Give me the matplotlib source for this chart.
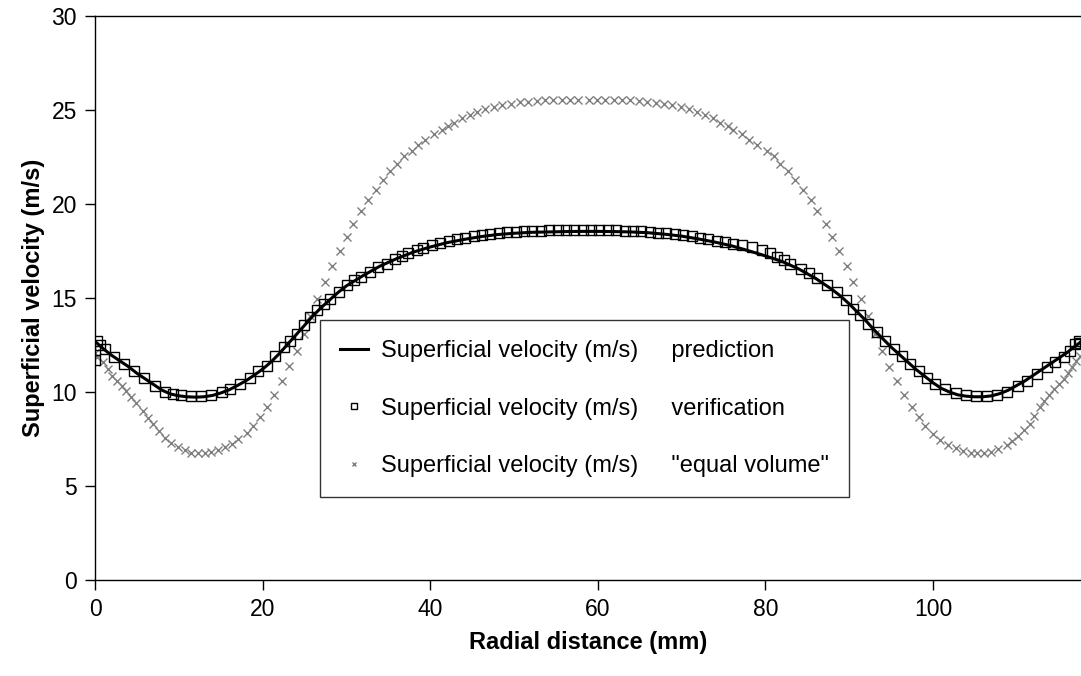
import matplotlib
matplotlib.use("Agg")
import matplotlib.pyplot as plt

plt.rcParams['font.family'] = ['Liberation Sans', 'DejaVu Sans']

# verification (squares)
ver_x = [0.0, 0.2, 0.6, 1.2, 2.3, 3.5, 4.7, 5.9, 7.1, 8.3, 9.3, 10.3, 11.5, 12.7, 13.9,
         15.1, 16.1, 17.3, 18.5, 19.5, 20.5, 21.5, 22.5, 23.3, 24.1, 24.9, 25.7, 26.5,
         27.3, 28.1, 29.1, 30.1, 30.9, 31.8, 32.8, 33.8, 34.8, 35.8, 36.6, 37.4, 38.4,
         39.2, 40.2, 41.2, 42.2, 43.2, 44.2, 45.2, 46.2, 47.2, 48.2, 49.2, 50.2, 51.2,
         52.2, 53.2, 54.2, 55.2, 56.2, 57.2, 58.2, 59.2, 60.2, 61.2, 62.2, 63.2, 64.2,
         65.2, 66.2, 67.2, 68.2, 69.2, 70.2, 71.2, 72.2, 73.2, 74.2, 75.2, 76.2, 77.2,
         78.4, 79.6, 80.5, 81.4, 82.2, 83.0, 84.2, 85.2, 86.2, 87.4, 88.6, 89.6, 90.5,
         91.3, 92.3, 93.3, 94.3, 95.3, 96.3, 97.3, 98.3, 99.3, 100.3, 101.5, 102.7,
         103.9, 105.1, 106.4, 107.7, 108.8, 110.1, 111.2, 112.4, 113.6, 114.6, 115.6,
         116.4, 117.0, 117.4, 117.6]
ver_v = [11.7, 12.7, 12.5, 12.3, 11.85, 11.5, 11.14, 10.73, 10.34, 10.02, 9.9, 9.82,
         9.78, 9.78, 9.86, 10.02, 10.16, 10.43, 10.73, 11.1, 11.4, 11.9, 12.39, 12.74,
         13.1, 13.55, 14.0, 14.35, 14.7, 14.97, 15.33, 15.7, 15.95, 16.13, 16.4, 16.67,
         16.84, 17.06, 17.26, 17.4, 17.56, 17.68, 17.8, 17.92, 18.02, 18.12, 18.2,
         18.28, 18.35, 18.4, 18.45, 18.5, 18.53, 18.55, 18.57, 18.58, 18.6, 18.6, 18.6,
         18.62, 18.62, 18.63, 18.62, 18.6, 18.6, 18.58, 18.56, 18.55, 18.52, 18.48,
         18.45, 18.4, 18.35, 18.28, 18.2, 18.12, 18.05, 17.97, 17.9, 17.83, 17.7,
         17.56, 17.4, 17.2, 17.02, 16.84, 16.54, 16.31, 16.08, 15.7, 15.33, 14.88,
         14.44, 14.08, 13.64, 13.19, 12.74, 12.3, 11.94, 11.5, 11.14, 10.75, 10.43,
         10.16, 9.93, 9.84, 9.8, 9.8, 9.86, 9.98, 10.34, 10.6, 10.96, 11.32, 11.62,
         11.86, 12.21, 12.57, 12.74, 12.6]

# "equal volume" (crosses)
eq_x = [0.0, 0.24, 0.96, 1.55, 2.03, 2.63, 3.22, 3.74, 4.34, 4.93, 5.73, 6.33, 6.93,
        7.64, 8.32, 9.11, 9.91, 10.71, 11.5, 12.3, 13.1, 13.9, 14.7, 15.5, 16.3, 17.1,
        18.1, 18.9, 19.7, 20.5, 21.4, 22.3, 23.2, 24.1, 24.9, 25.7, 26.5, 27.5, 28.3,
        29.2, 30.1, 30.8, 31.7, 32.6, 33.5, 34.4, 35.2, 36.1, 36.9, 37.8, 38.6, 39.4,
        40.4, 41.4, 42.1, 42.8, 43.8, 44.8, 45.6, 46.6, 47.6, 48.6, 49.6, 50.7, 51.7,
        52.7, 53.7, 54.7, 55.7, 56.7, 57.7, 58.9, 59.9, 60.9, 61.9, 62.9, 63.9, 64.9,
        65.9, 66.9, 67.9, 68.9, 69.9, 70.9, 71.9, 72.8, 73.8, 74.6, 75.5, 76.2, 77.2,
        78.0, 79.0, 80.2, 81.0, 81.8, 82.7, 83.6, 84.5, 85.4, 86.2, 87.2, 87.9, 88.8,
        89.7, 90.5, 91.4, 92.3, 93.1, 93.9, 94.8, 95.7, 96.6, 97.5, 98.4, 99.1, 100.0,
        100.9, 101.8, 102.7, 103.6, 104.5, 105.3, 106.1, 106.9, 107.8, 108.8, 109.5,
        110.2, 110.9, 111.6, 112.1, 112.8, 113.3, 113.8, 114.4, 115.0, 115.6, 116.1,
        116.6, 117.1, 117.6]
eq_v = [12.1, 11.86, 11.62, 11.23, 10.87, 10.6, 10.34, 10.04, 9.75, 9.41, 9.0, 8.64,
        8.29, 7.93, 7.58, 7.31, 7.1, 6.92, 6.78, 6.74, 6.78, 6.83, 6.92, 7.07, 7.26,
        7.49, 7.81, 8.2, 8.68, 9.2, 9.84, 10.57, 11.37, 12.21, 13.1, 14.05, 14.97,
        15.87, 16.72, 17.52, 18.27, 18.97, 19.64, 20.23, 20.77, 21.27, 21.75, 22.16,
        22.55, 22.85, 23.15, 23.44, 23.71, 23.94, 24.15, 24.33, 24.56, 24.74, 24.9,
        25.04, 25.17, 25.26, 25.35, 25.42, 25.45, 25.5, 25.52, 25.54, 25.55, 25.55,
        25.56, 25.56, 25.56, 25.55, 25.55, 25.54, 25.52, 25.5, 25.45, 25.4, 25.35,
        25.26, 25.17, 25.04, 24.9, 24.74, 24.56, 24.33, 24.15, 23.94, 23.71, 23.44,
        23.15, 22.85, 22.55, 22.16, 21.75, 21.27, 20.77, 20.23, 19.64, 18.97, 18.24,
        17.5, 16.72, 15.87, 14.94, 14.03, 13.1, 12.21, 11.35, 10.57, 9.84, 9.2, 8.68,
        8.2, 7.79, 7.43, 7.18, 7.0, 6.86, 6.78, 6.74, 6.78, 6.83, 6.95, 7.17, 7.4,
        7.66, 7.98, 8.29, 8.73, 9.18, 9.53, 9.84, 10.16, 10.43, 10.7, 11.0, 11.32,
        11.68, 11.94]

# prediction (line)
pred_x = [0, 1, 2, 3, 4, 5, 6, 7, 8, 9, 10, 11, 12, 13, 14, 15, 16, 17, 18, 19, 20,
          21, 22, 23, 24, 25, 26, 27, 28, 29, 30, 32, 34, 36, 38, 40, 42, 44, 46, 48,
          50, 52, 54, 56, 58, 60, 62, 64, 66, 68, 70, 72, 74, 76, 78, 80, 82, 84, 86,
          87, 88, 89, 90, 91, 92, 93, 94, 95, 96, 97, 98, 99, 100, 101, 102, 103, 104,
          105, 106, 107, 108, 109, 110, 111, 112, 113, 114, 115, 116, 117, 117.6]
pred_v = [12.7, 12.3, 11.95, 11.65, 11.35, 11.0, 10.7, 10.4, 10.1, 9.9, 9.8, 9.75,
          9.73, 9.75, 9.82, 9.95, 10.12, 10.35, 10.6, 10.9, 11.22, 11.6, 12.05, 12.55,
          13.05, 13.55, 14.05, 14.5, 14.9, 15.3, 15.65, 16.2, 16.7, 17.1, 17.45, 17.72,
          17.95, 18.12, 18.27, 18.38, 18.45, 18.5, 18.52, 18.54, 18.55, 18.55, 18.54,
          18.52, 18.48, 18.4, 18.3, 18.15, 17.98, 17.78, 17.52, 17.25, 16.95, 16.55,
          16.05, 15.75, 15.45, 15.1, 14.7, 14.25, 13.8, 13.3, 12.85, 12.4, 12.0, 11.6,
          11.2, 10.85, 10.5, 10.2, 10.0, 9.85, 9.78, 9.75, 9.75, 9.8, 9.92, 10.1,
          10.35, 10.6, 10.9, 11.2, 11.5, 11.8, 12.1, 12.45, 12.65]

gap = ' ' * 5
lab_pred = 'Superficial velocity (m/s)' + gap + 'prediction'
lab_ver = 'Superficial velocity (m/s)' + gap + 'verification'
lab_eq = 'Superficial velocity (m/s)' + gap + '"equal volume"'

fig = plt.figure(figsize=(10.81, 6.76), dpi=100)
ax = fig.add_axes([0.0879, 0.142, 0.9115, 0.834])

ax.plot(pred_x, pred_v, color='black', lw=2.2, label=lab_pred, zorder=3)
ax.plot(ver_x, ver_v, ls='none', marker='s', ms=6.5, mfc='none', mec='black',
        mew=1.0, label=lab_ver, zorder=4)
ax.plot(eq_x, eq_v, ls='none', marker='x', ms=5.5, mec='#7f7f7f', mew=1.0,
        label=lab_eq, zorder=2)

ax.set_xlim(0, 117.6)
ax.set_ylim(0, 30)
ax.set_xticks([0, 20, 40, 60, 80, 100])
ax.set_yticks([0, 5, 10, 15, 20, 25, 30])
ax.tick_params(direction='out', length=7, width=1, labelsize=16.5, pad=6)
ax.spines['right'].set_visible(False)
for s in ['left', 'top', 'bottom']:
    ax.spines[s].set_linewidth(1.0)

ax.set_xlabel('Radial distance (mm)', fontsize=17, fontweight='bold', labelpad=7)
ax.set_ylabel('Superficial velocity (m/s)', fontsize=17, fontweight='bold', labelpad=5)

leg = ax.legend(loc='lower left', bbox_to_anchor=(0.228, 0.147), borderaxespad=0,
                fontsize=17, frameon=True, fancybox=False, edgecolor='black',
                labelspacing=1.5, handlelength=1.2, handletextpad=0.55,
                borderpad=0.85, markerscale=0.6)
leg.get_frame().set_linewidth(1.0)

fig.savefig('out.png', dpi=100)
